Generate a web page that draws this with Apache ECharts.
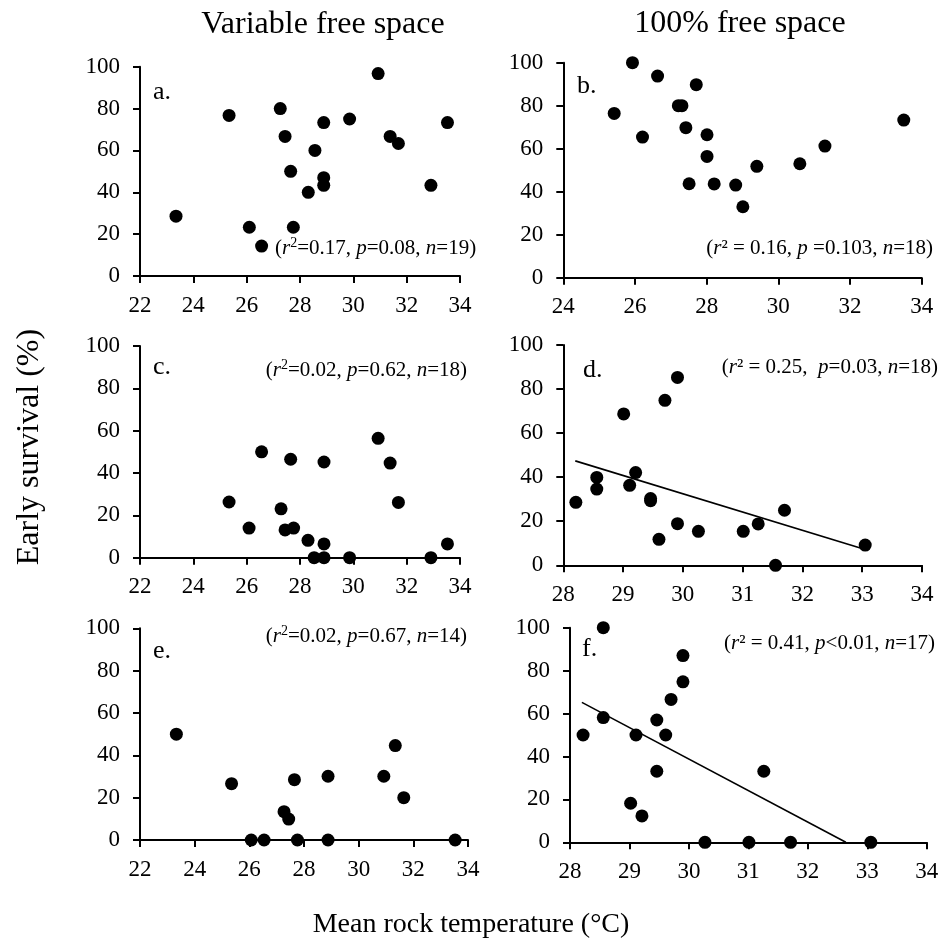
<!DOCTYPE html>
<html>
<head>
<meta charset="utf-8">
<script src="https://cdn.jsdelivr.net/npm/echarts@6/dist/echarts.min.js"></script>
<style>
  html, body { margin: 0; padding: 0; background: #fff; }
  #chart { width: 943px; height: 947px; }
</style>
</head>
<body>
<div id="chart"></div>
<script>
// Early survival (%) against mean rock temperature (°C)
// a: variable free space, year 1     b: 100% free space, year 1
const tempA = [23.35, 25.34, 26.1, 26.56, 27.26, 27.44, 27.65, 27.75, 28.31, 28.56, 28.89, 28.89, 28.89, 29.86, 30.93, 31.38, 31.69, 32.91, 33.53];
const survA = [28.6, 76.7, 23.3, 14.3, 80, 66.7, 50, 23.3, 40, 60, 73.3, 47, 43.3, 75, 96.7, 66.7, 63.3, 43.3, 73.3];

const tempB = [25.42, 25.93, 26.21, 26.63, 27.21, 27.31, 27.42, 27.51, 27.71, 28.01, 28.01, 28.21, 28.81, 29.01, 29.4, 30.6, 31.3, 33.5];
const survB = [76.4, 100, 65.4, 93.8, 80, 80, 69.8, 43.7, 89.8, 66.5, 56.4, 43.6, 43.1, 33, 51.8, 53, 61.2, 73.3];

// c: variable free space     d: 100% free space
const tempC = [25.34, 26.09, 26.56, 27.29, 27.44, 27.76, 28.3, 28.53, 28.9, 28.9, 28.9, 27.65, 29.86, 30.93, 31.38, 31.69, 32.91, 33.53];
const survC = [26.3, 14, 50, 23.1, 13.1, 14, 8.2, 0, 0, 6.5, 45.2, 46.5, 0, 56.4, 44.7, 26.1, 0, 6.5];

const tempD = [28.21, 28.56, 28.56, 29.01, 29.11, 29.21, 29.46, 29.46, 29.6, 29.7, 29.91, 29.91, 30.26, 31.01, 31.26, 31.55, 31.7, 33.05];
const survD = [28.6, 39.9, 34.6, 68.7, 36.3, 42.1, 30.3, 29.3, 11.8, 74.9, 85.3, 18.9, 15.4, 15.4, 18.8, 0, 25, 9.2];
const fitD = [[28.2, 47.4], [33.05, 7.2]];

// e: variable free space     f: 100% free space
const tempE = [23.33, 25.35, 26.07, 26.54, 27.27, 27.44, 27.65, 27.76, 28.88, 28.88, 30.92, 31.34, 31.65, 33.53];
const survE = [50, 26.6, 0, 0, 13.4, 9.9, 28.5, 0, 30.1, 0, 30.1, 44.6, 20, 0];

const tempF = [28.22, 28.56, 28.56, 29.02, 29.11, 29.21, 29.46, 29.46, 29.61, 29.7, 29.9, 29.9, 30.27, 31.01, 31.26, 31.71, 33.06];
const survF = [50, 100, 58.1, 18.2, 50, 12.3, 57, 33.1, 50, 66.6, 74.8, 87, 0, 0, 33.1, 0, 0];
const fitF = [[28.2, 65.2], [32.64, 0]];

const yTicks = [0, 20, 40, 60, 80, 100];

const FONT = "'Liberation Serif', 'Times New Roman', serif";

const grids = [
  { left: 140,   top: 66.7,  width: 320,   height: 209.3 },
  { left: 563.3, top: 62.7,  width: 358.4, height: 215 },
  { left: 140,   top: 346,   width: 320,   height: 211.7 },
  { left: 563.3, top: 345,   width: 358.7, height: 220.3 },
  { left: 140,   top: 628.3, width: 328,   height: 211.7 },
  { left: 570,   top: 627.7, width: 356.7, height: 214.6 }
];
const xRanges = [[22, 34, 2], [24, 34, 2], [22, 34, 2], [28, 34, 1], [22, 34, 2], [28, 34, 1]];

function axisStyle() {
  return {
    axisLine: { show: true, onZero: false, lineStyle: { color: '#000', width: 2 } },
    axisTick: { show: true, inside: false, length: 7, lineStyle: { color: '#000', width: 2 } },
    splitLine: { show: false },
    axisLabel: { color: '#000', fontFamily: FONT, fontSize: 23 }
  };
}

const xAxes = xRanges.map((r, i) => {
  const s = axisStyle();
  s.axisLabel.margin = 18;
  return Object.assign({ type: 'value', gridIndex: i, min: r[0], max: r[1], interval: r[2] }, s);
});
const yAxes = grids.map((g, i) => {
  const s = axisStyle();
  s.axisLabel.margin = 20;
  return Object.assign({ type: 'value', gridIndex: i, min: yTicks[0], max: yTicks[yTicks.length - 1], interval: 20 }, s);
});

function pts(xs, ys) { return xs.map((x, k) => [x, ys[k]]); }
function scatter(i, xs, ys) {
  return { type: 'scatter', xAxisIndex: i, yAxisIndex: i, data: pts(xs, ys),
    symbolSize: 13, itemStyle: { color: '#000', opacity: 1 }, z: 3 };
}
function fitLine(i, d) {
  return { type: 'line', xAxisIndex: i, yAxisIndex: i, data: d, showSymbol: false,
    lineStyle: { color: '#000', width: 1.6 }, z: 2 };
}

const series = [
  scatter(0, tempA, survA),
  scatter(1, tempB, survB),
  scatter(2, tempC, survC),
  scatter(3, tempD, survD),
  fitLine(3, fitD),
  scatter(4, tempE, survE),
  scatter(5, tempF, survF),
  fitLine(5, fitF)
];

const rich = {
  t: { fontFamily: FONT, fontSize: 21, color: '#000', lineHeight: 24 },
  i: { fontFamily: FONT, fontSize: 21, fontStyle: 'italic', color: '#000', lineHeight: 24 },
  s: { fontFamily: FONT, fontSize: 14, color: '#000', lineHeight: 14, verticalAlign: 'top' }
};

function stat(x, y, align, text) {
  return { type: 'text', x: x, y: y, z: 10,
    style: { text: text, rich: rich, textAlign: align, textVerticalAlign: 'middle', fill: '#000' } };
}
function label(x, y, text, size, align, rotation) {
  return { type: 'text', x: x, y: y, z: 10, rotation: rotation || 0,
    style: { text: text, fontFamily: FONT, fontSize: size, fill: '#000', textAlign: align, textVerticalAlign: 'middle' } };
}

const graphics = [
  label(323, 25, 'Variable free space', 32, 'center'),
  label(740, 24, '100% free space', 32, 'center'),
  label(471, 925, 'Mean rock temperature (°C)', 28, 'center'),
  label(30, 447, 'Early survival (%)', 32, 'center', Math.PI / 2),

  label(153, 92, 'a.', 26, 'left'),
  label(577, 86, 'b.', 26, 'left'),
  label(153, 367, 'c.', 26, 'left'),
  label(583, 370, 'd.', 26, 'left'),
  label(153, 651, 'e.', 26, 'left'),
  label(582, 649, 'f.', 26, 'left'),

  stat(275, 248, 'left',  '{t|(}{i|r}{s|2}{t|=0.17, }{i|p}{t|=0.08, }{i|n}{t|=19)}'),
  stat(933, 248, 'right', '{t|(}{i|r}{t|² = 0.16, }{i|p}{t| =0.103, }{i|n}{t|=18)}'),
  stat(467, 370, 'right', '{t|(}{i|r}{s|2}{t|=0.02, }{i|p}{t|=0.62, }{i|n}{t|=18)}'),
  stat(938, 367, 'right', '{t|(}{i|r}{t|² = 0.25,  }{i|p}{t|=0.03, }{i|n}{t|=18)}'),
  stat(467, 636, 'right', '{t|(}{i|r}{s|2}{t|=0.02, }{i|p}{t|=0.67, }{i|n}{t|=14)}'),
  stat(935, 643, 'right', '{t|(}{i|r}{t|² = 0.41, }{i|p}{t|<0.01, }{i|n}{t|=17)}')
];

const chart = echarts.init(document.getElementById('chart'), null, { renderer: 'canvas' });
chart.setOption({
  animation: false,
  backgroundColor: '#fff',
  grid: grids,
  xAxis: xAxes,
  yAxis: yAxes,
  series: series,
  graphic: graphics
});
</script>
</body>
</html>
